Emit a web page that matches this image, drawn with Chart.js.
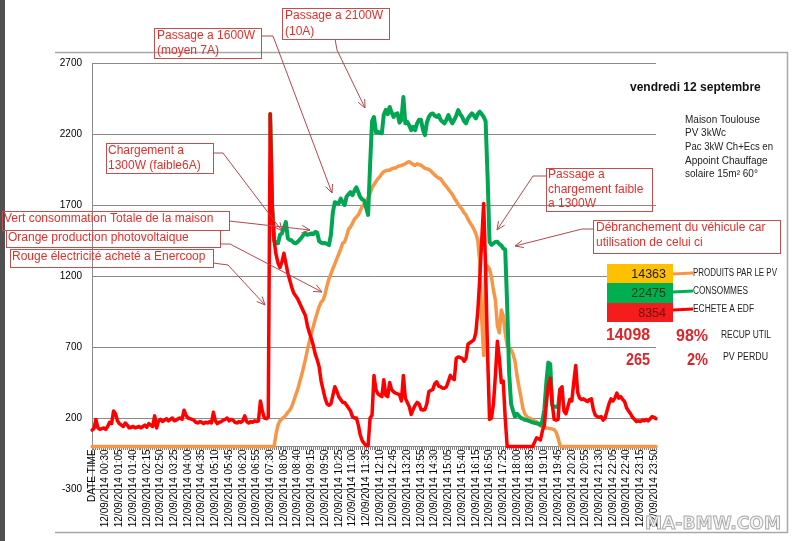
<!DOCTYPE html>
<html><head><meta charset="utf-8">
<script src="https://cdn.jsdelivr.net/npm/chart.js@4.4.0/dist/chart.umd.min.js"></script>
<style>html,body{margin:0;padding:0;background:#fff;}canvas{display:block}</style>
</head><body>
<canvas id="c" width="800" height="541"></canvas>
<script>
// ---------- DATA ----------
const labelEvery = 7;
const categories = ['DATE TIME'];
for (let m = 0; m < 24 * 60; m += 5) {
  const h = String(Math.floor(m / 60)).padStart(2, '0');
  const mm = String(m % 60).padStart(2, '0');
  categories.push('12/09/2014 ' + h + ':' + mm);
}
const yTicks = [-300, 200, 700, 1200, 1700, 2200, 2700];

// Rouge : électricité achetée
const redValues = [
115,125,190,130,120,125,130,120,140,170,
160,250,230,180,160,150,140,165,150,130,
135,140,130,135,140,130,140,150,135,160,
150,140,215,130,180,190,175,185,195,180,
190,200,180,185,195,200,190,255,220,200,
195,190,185,170,165,175,170,160,170,165,
175,165,240,180,160,170,175,185,190,200,
180,190,185,170,165,175,170,180,215,175,
165,175,170,180,175,180,320,250,200,195,
205,2340,1700,1450,1350,1290,1260,1300,1360,1290,
1220,1170,1120,1080,1060,1040,1010,980,950,920,
850,800,760,710,650,610,560,460,400,340,
300,290,300,360,420,390,350,330,310,310,
290,270,250,210,200,200,150,80,40,20,
5,5,200,220,500,400,370,360,350,470,
360,350,450,400,385,375,370,365,320,500,
340,310,280,225,260,290,310,300,260,256,
260,300,385,395,400,440,455,425,420,410,
410,420,460,500,480,470,620,630,625,620,
600,620,720,730,740,750,800,950,1180,1450,
1710,1250,650,190,200,300,500,740,620,450,
460,200,0,0,0,0,0,0,0,0,
0,0,0,0,0,0,30,60,55,45,
110,150,300,430,480,300,190,185,190,400,
420,250,230,280,330,320,450,570,380,340,
330,335,325,315,330,335,260,220,210,205,
210,185,200,250,300,335,320,340,375,340,
350,330,315,270,250,230,205,190,175,180,
175,185,180,190,180,195,210,205,195];

// Vert : consommation totale (visible part only; elsewhere hidden under red)
const greenValues = [
null,null,null,null,null,null,null,null,null,null,
null,null,null,null,null,null,null,null,null,null,
null,null,null,null,null,null,null,null,null,null,
null,null,null,null,null,null,null,null,null,null,
null,null,null,null,null,null,null,null,null,null,
null,null,null,null,null,null,null,null,null,null,
null,null,null,null,null,null,null,null,null,null,
null,null,null,null,null,null,null,null,null,null,
null,null,null,null,null,null,null,null,null,null,
null,2340,1700,1450,1430,1430,1490,1500,1540,1580,
1465,1455,1450,1435,1430,1440,1455,1470,1490,1500,
1490,1495,1500,1495,1510,1505,1445,1435,1430,1432,
1425,1418,1490,1650,1720,1715,1710,1745,1720,1700,
1760,1775,1790,1770,1800,1825,1790,1755,1740,1730,
1680,1630,1980,2290,2320,2210,2215,2210,2205,2335,
2370,2340,2390,2350,2320,2340,2345,2280,2300,2460,
2275,2285,2260,2227,2250,2227,2275,2300,2300,2230,
2192,2280,2320,2340,2345,2330,2320,2333,2300,2286,
2275,2300,2333,2300,2275,2300,2330,2368,2340,2321,
2290,2275,2310,2330,2345,2330,2310,2340,2357,2340,
2320,2290,1900,1440,1420,1430,1440,1441,1425,1415,
1395,1385,1000,520,300,250,210,230,215,200,
195,188,185,180,175,170,165,163,158,150,
180,260,450,590,580,290,280,280,275,400,
null,null,null,null,null,null,null,null,null,null,
null,null,null,null,null,null,null,null,null,null,
null,null,null,null,null,null,null,null,null,null,
null,null,null,null,null,null,null,null,null,null,
null,null,null,null,null,null,null,null,null];

// Orange : production photovoltaïque
const orangeValues = [
0,0,0,0,0,0,0,0,0,0,
0,0,0,0,0,0,0,0,0,0,
0,0,0,0,0,0,0,0,0,0,
0,0,0,0,0,0,0,0,0,0,
0,0,0,0,0,0,0,0,0,0,
0,0,0,0,0,0,0,0,0,0,
0,0,0,0,0,0,0,0,0,0,
0,0,0,0,0,0,0,0,0,0,
0,0,0,0,0,0,0,0,0,0,
0,0,0,0,90,150,180,195,205,220,
240,255,280,320,360,400,450,500,555,615,
680,740,790,845,895,940,985,1015,1030,1070,
1130,1180,1215,1250,1285,1320,1355,1390,1430,1440,
1480,1530,1545,1570,1600,1615,1630,1660,1690,1705,
1720,1750,1780,1820,1845,1865,1885,1900,1920,1935,
1940,1945,1945,1955,1960,1960,1970,1975,1978,1985,
1990,2000,2005,1995,1985,1980,1990,1985,1980,1970,
1958,1955,1950,1940,1925,1912,1900,1890,1885,1865,
1845,1830,1810,1793,1775,1750,1728,1705,1685,1670,
1645,1630,1600,1575,1555,1530,1500,1450,1300,900,
640,1280,1270,1250,1190,1100,1030,850,800,960,
920,800,710,690,680,650,600,500,420,350,
270,230,210,200,195,185,178,172,160,145,
138,135,130,128,125,122,118,100,60,5,
0,0,0,0,0,0,0,0,0,0,
0,0,0,0,0,0,0,0,0,0,
0,0,0,0,0,0,0,0,0,0,
0,0,0,0,0,0,0,0,0,0,
0,0,0,0,0,0,0,0,0];

// Tableau récapitulatif
const summaryValues = ['14363', '22475', '8354'];
const summaryLabels = ['PRODUITS PAR LE PV', 'CONSOMMES', 'ECHETE A EDF'];
const recupValues = ['14098', '98%', 'RECUP UTIL'];
const perduValues = ['265', '2%', 'PV PERDU'];

// ---------- DECORATION ----------
const FONT = '"Liberation Sans", Arial, sans-serif';
const annotations = [
  {box:[154,28,107,30], lines:['Passage a 1600W','(moyen 7A)'], tx:157, ty:[36,51], arrow:[[261,36],[273,36],[332,193]]},
  {box:[282,8,107,31], lines:['Passage a 2100W','(10A)'], tx:285, ty:[16,32], arrow:[[335,39],[337,50],[365,108]]},
  {box:[106,143,107,30], lines:['Chargement a','1300W (faible6A)'], tx:108, ty:[151,166], arrow:[[213,153],[223,153],[282,231]]},
  {box:[2,211,227,19], lines:['Vert consommation Totale de la maison'], tx:4, ty:[219], arrow:[[229,221],[310,230]]},
  {box:[6,230,214,17], lines:['Orange production photovoltaique'], tx:8, ty:[238], arrow:[[220,244],[230,244],[322,292]]},
  {box:[10,249,203,18], lines:['Rouge électricité acheté a Enercoop'], tx:12, ty:[257], arrow:[[213,263],[228,265],[265,305]]},
  {box:[546,168,106,43], lines:['Passage a','chargement faible','a 1300W'], tx:548, ty:[175,190,204], arrow:[[546,176],[533,176],[497,230]]},
  {box:[593,220,187,33], lines:['Débranchement du véhicule car','utilisation de celui ci'], tx:596, ty:[228,243], arrow:[[593,229],[582,229],[515,246]]}
];

function drawArrow(ctx, pts) {
  ctx.beginPath();
  ctx.moveTo(pts[0][0], pts[0][1]);
  for (let i = 1; i < pts.length; i++) ctx.lineTo(pts[i][0], pts[i][1]);
  ctx.stroke();
  const [x2, y2] = pts[pts.length - 1];
  const [x1, y1] = pts[pts.length - 2];
  const a = Math.atan2(y2 - y1, x2 - x1);
  const L = 9;
  ctx.beginPath();
  ctx.moveTo(x2 - L * Math.cos(a - 0.42), y2 - L * Math.sin(a - 0.42));
  ctx.lineTo(x2, y2);
  ctx.lineTo(x2 - L * Math.cos(a + 0.42), y2 - L * Math.sin(a + 0.42));
  ctx.stroke();
}

const decor = {
  id: 'decor',
  beforeDraw(chart) {
    const ctx = chart.ctx;
    ctx.save();
    ctx.fillStyle = '#fff';
    ctx.fillRect(0, 0, 800, 541);
    ctx.fillStyle = '#505050';
    ctx.fillRect(0, 0, 5, 541);
    ctx.strokeStyle = '#a8a8a8';
    ctx.lineWidth = 1.5;
    ctx.beginPath();
    ctx.moveTo(55, 52.5); ctx.lineTo(787.5, 52.5); ctx.lineTo(787.5, 532.5); ctx.lineTo(55, 532.5);
    ctx.stroke();
    ctx.restore();
  },
  afterDraw(chart) {
    const ctx = chart.ctx;
    ctx.save();
    // annotations
    ctx.lineWidth = 1;
    annotations.forEach(a => {
      ctx.strokeStyle = '#c0504d';
      ctx.strokeRect(a.box[0] + 0.5, a.box[1] + 0.5, a.box[2], a.box[3]);
      ctx.fillStyle = '#e0302c';
      ctx.font = '12px ' + FONT;
      ctx.textBaseline = 'middle';
      ctx.textAlign = 'left';
      a.lines.forEach((t, i) => ctx.fillText(t, a.tx, a.ty[i]));
      ctx.strokeStyle = '#b5474f';
      drawArrow(ctx, a.arrow);
    });
    // title & info
    ctx.fillStyle = '#111';
    ctx.font = 'bold 12px ' + FONT;
    ctx.textBaseline = 'middle';
    ctx.fillText('vendredi 12 septembre', 630, 88, 136);
    ctx.font = '10px ' + FONT;
    ctx.fillStyle = '#222';
    const info = ['Maison Toulouse', 'PV 3kWc', 'Pac 3kW Ch+Ecs en', 'Appoint Chauffage', 'solaire 15m² 60°'];
    info.forEach((t, i) => ctx.fillText(t, 685, 120 + i * 13.6, 88));
    // summary table
    const cells = [
      {y:264, h:19, fill:'#ffc000', txt:'#1a1a1a', line:'#f79646', ly:273},
      {y:283, h:20, fill:'#00b050', txt:'#163c1c', line:'#00b050', ly:291},
      {y:303, h:19, fill:'#f41c1c', txt:'#6e0f0f', line:'#ff0000', ly:309}
    ];
    const lw = [84, 55, 61];
    cells.forEach((c, i) => {
      ctx.fillStyle = c.fill;
      ctx.fillRect(607, c.y, 66, c.h);
      ctx.fillStyle = c.txt;
      ctx.font = '12.5px ' + FONT;
      ctx.textAlign = 'right';
      ctx.fillText(summaryValues[i], 666, c.y + c.h / 2 + 1);
      ctx.strokeStyle = c.line;
      ctx.lineWidth = 3;
      ctx.beginPath(); ctx.moveTo(673, c.ly + 1); ctx.lineTo(693, c.ly); ctx.stroke();
      ctx.fillStyle = '#222';
      ctx.font = '10px ' + FONT;
      ctx.textAlign = 'left';
      ctx.fillText(summaryLabels[i], 693, c.ly, lw[i]);
    });
    ctx.fillStyle = '#df2428';
    ctx.font = 'bold 16px ' + FONT;
    ctx.textAlign = 'right';
    ctx.fillText(recupValues[0], 650, 336, 44);
    ctx.fillText(recupValues[1], 708, 337, 32);
    ctx.fillText(perduValues[0], 650, 361, 24);
    ctx.fillText(perduValues[1], 708, 361, 21);
    ctx.textAlign = 'left';
    ctx.fillStyle = '#222';
    ctx.font = '10px ' + FONT;
    ctx.fillText(recupValues[2], 721, 335, 50);
    ctx.fillText(perduValues[2], 723, 357, 45);
    // watermark
    ctx.font = 'bold 18px "DejaVu Sans", sans-serif';
    ctx.fillStyle = '#f4f4f4';
    ctx.strokeStyle = '#a8a8a8';
    ctx.lineWidth = 1;
    ctx.fillText('MA-BMW.COM', 645, 524, 136);
    ctx.strokeText('MA-BMW.COM', 645, 524, 136);
    ctx.restore();
  }
};

// ---------- CHART ----------
const tickFont = {family: '"Liberation Sans", Arial, sans-serif', size: 10};
new Chart(document.getElementById('c').getContext('2d'), {
  type: 'line',
  data: {
    labels: categories,
    datasets: [
      {label: 'Rouge électricité acheté', data: redValues, borderColor: '#ff0000', borderWidth: 3.5, pointRadius: 0, tension: 0, borderJoinStyle: 'round', borderCapStyle: 'round'},
      {label: 'Vert consommation totale', data: greenValues, borderColor: '#00a651', borderWidth: 4, pointRadius: 0, tension: 0, borderJoinStyle: 'round', borderCapStyle: 'round'},
      {label: 'Orange production photovoltaique', data: orangeValues, borderColor: '#f79646', borderWidth: 3.5, pointRadius: 0, tension: 0, borderJoinStyle: 'round', borderCapStyle: 'round'}
    ]
  },
  options: {
    responsive: false,
    animation: false,
    events: [],
    devicePixelRatio: 1,
    layout: {padding: {left: 0, top: 63, right: 144, bottom: 52}},
    plugins: {legend: {display: false}, tooltip: {enabled: false}},
    scales: {
      y: {
        min: yTicks[0], max: yTicks[yTicks.length - 1],
        afterFit(s) { s.width = 92; },
        afterBuildTicks(s) { s.ticks = yTicks.map(v => ({value: v})); },
        ticks: {padding: 10, color: '#000', font: tickFont, callback(v) { return String(v); }},
        grid: {color: '#8a8a8a', lineWidth: 1, drawTicks: false},
        border: {display: true, color: '#8a8a8a'}
      },
      x: {
        position: {y: 0},
        ticks: {
          autoSkip: false, maxRotation: 90, minRotation: 90, padding: 0,
          color: '#000', font: tickFont,
          callback(v, i) { return i % labelEvery === 0 ? categories[i] : ''; }
        },
        grid: {drawOnChartArea: false, drawTicks: true, tickLength: 3, color: '#7f7f7f'},
        border: {display: true, color: '#8a8a8a'}
      }
    }
  },
  plugins: [decor]
});
</script>
</body></html>
